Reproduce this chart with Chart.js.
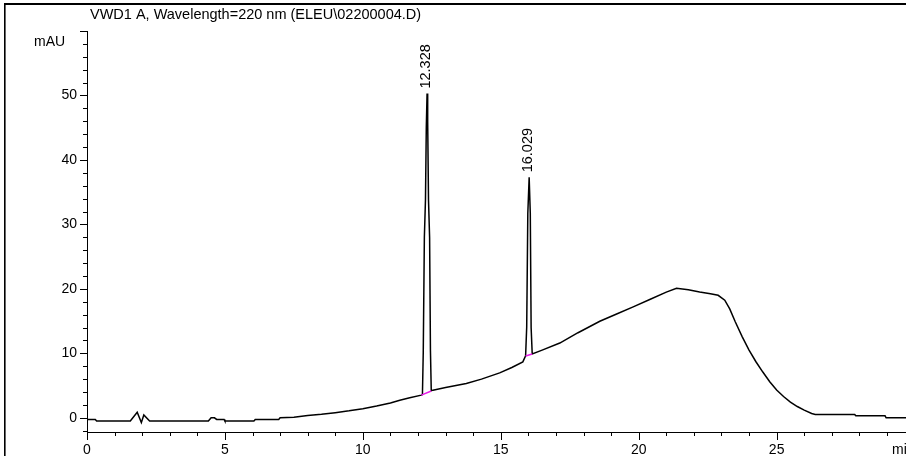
<!DOCTYPE html>
<html>
<head>
<meta charset="utf-8">
<title>VWD1 A, Wavelength=220 nm</title>
<script src="https://cdn.jsdelivr.net/npm/chart.js@4.4.1/dist/chart.umd.min.js"></script>
<style>
    html, body { margin: 0; padding: 0; background: #fff; overflow: hidden; }
    #wrap { width: 906px; height: 456px; }
</style>
</head>
<body>
<div id="wrap"><canvas id="chromatogram" width="906" height="456"></canvas></div>
<script>
// --- DADOS ---
const signalTitle = 'VWD1 A, Wavelength=220 nm (ELEU\\02200004.D)';
const yUnit = 'mAU';
const xUnit = 'min';

// tempo de retenção (min) e sinal (mAU)
const retentionTime = [
    0.00, 0.30, 0.35, 1.57, 1.82, 1.97, 2.06, 2.27, 4.40, 4.50, 4.62, 4.70, 4.97, 5.00,
    6.05, 6.10, 6.95, 7.00, 7.50, 8.00, 8.50, 9.00, 9.50, 10.00, 10.50, 11.00, 11.34, 11.70,
    12.12, 12.16, 12.19, 12.23, 12.27, 12.30, 12.328, 12.35, 12.38, 12.42, 12.45, 12.48,
    12.54, 13.00, 13.75, 14.30, 14.96, 15.40, 15.80,
    15.90, 15.94, 15.98, 16.029, 16.07, 16.10, 16.14,
    16.50, 17.14, 17.80, 18.59, 19.20, 19.80, 20.40, 21.00, 21.37, 21.80, 22.21, 22.60, 22.88,
    23.12, 23.30, 23.50, 23.75, 24.00, 24.25, 24.50, 24.75, 25.00, 25.25, 25.50, 25.75, 26.00,
    26.27, 26.40, 27.83, 27.87, 28.93, 28.97, 29.69
];
const absorbance = [
    -0.25, -0.25, -0.5, -0.5, 0.85, -0.75, 0.45, -0.5, -0.5, 0.0, 0.0, -0.25, -0.25, -0.5,
    -0.5, -0.25, -0.25, 0.0, 0.1, 0.35, 0.55, 0.8, 1.08, 1.42, 1.82, 2.3, 2.72, 3.1,
    3.52, 3.6, 10.2, 28.0, 33.8, 45.0, 50.3, 46.0, 33.8, 28.0, 10.5, 4.2,
    4.29, 4.7, 5.33, 6.0, 6.97, 7.8, 8.68,
    9.6, 14.1, 31.7, 37.3, 31.7, 14.0, 9.9,
    10.5, 11.6, 13.2, 14.98, 16.1, 17.2, 18.35, 19.5, 20.1, 19.85, 19.52, 19.25, 19.0,
    18.24, 16.9, 14.9, 12.6, 10.5, 8.7, 7.1, 5.6, 4.3, 3.3, 2.45, 1.75, 1.2,
    0.68, 0.52, 0.52, 0.31, 0.31, 0.0, 0.0
];

// picos integrados: tempo de retenção e linha de base (início / fim)
const peakTimes = [12.328, 16.029];
const baselineStartTime = [12.12, 15.90];
const baselineStartValue = [3.52, 9.6];
const baselineEndTime = [12.48, 16.14];
const baselineEndValue = [4.15, 9.9];

// rótulos dos eixos
const xTickLabels = [0, 5, 10, 15, 20, 25];
const yTickLabels = [0, 10, 20, 30, 40, 50];

const FONT = '"Liberation Sans", Arial, sans-serif';

// --- PLUGINS ---
const fundoBranco = {
    id: 'fundoBranco',
    beforeDraw(chart) {
        const ctx = chart.ctx;
        ctx.save();
        ctx.fillStyle = '#fff';
        ctx.fillRect(0, 0, chart.width, chart.height);
        ctx.restore();
    }
};

const moldura = {
    id: 'moldura',
    afterDraw(chart) {
        const { ctx, chartArea, scales } = chart;
        const x = scales.x, y = scales.y;
        ctx.save();
        ctx.fillStyle = '#000';
        // moldura externa (esquerda e topo)
        ctx.fillRect(4, 3, 1.6, chart.height - 3);
        ctx.fillRect(4, 3, chart.width - 4, 2);

        // marcas do eixo x: maiores a cada 5 min, menores a cada 1 min
        ctx.strokeStyle = '#000';
        ctx.lineWidth = 1;
        for (let t = 0; t <= x.max; t += 1) {
            const px = Math.round(x.getPixelForValue(t)) + 0.5;
            const len = t % 5 === 0 ? 8 : 4;
            ctx.beginPath();
            ctx.moveTo(px, chartArea.bottom);
            ctx.lineTo(px, chartArea.bottom + len);
            ctx.stroke();
        }
        // marcas do eixo y: maiores a cada 10, menores a cada 2
        for (let v = -2; v <= y.max; v += 2) {
            const py = Math.round(y.getPixelForValue(v)) + 0.5;
            const len = v % 10 === 0 ? 7 : 4;
            ctx.beginPath();
            ctx.moveTo(chartArea.left, py);
            ctx.lineTo(chartArea.left - len, py);
            ctx.stroke();
        }

        // títulos
        ctx.fillStyle = '#000';
        ctx.font = '14.5px ' + FONT;
        ctx.textBaseline = 'alphabetic';
        ctx.textAlign = 'left';
        ctx.fillText(signalTitle, 90, 19);
        ctx.font = '14px ' + FONT;
        ctx.fillText(yUnit, 34, 46);
        ctx.fillText(xUnit, chartArea.right - 14, 454);

        // rótulos dos picos, na vertical
        peakTimes.forEach(t => {
            const idx = retentionTime.indexOf(t);
            const topo = absorbance[idx];
            const px = x.getPixelForValue(t);
            const py = y.getPixelForValue(topo);
            ctx.save();
            ctx.translate(px - 1, py - 5);
            ctx.rotate(-Math.PI / 2);
            ctx.textAlign = 'left';
            ctx.textBaseline = 'middle';
            ctx.font = '14.5px ' + FONT;
            ctx.fillText(t.toFixed(3), 0, 0);
            ctx.restore();
        });
        ctx.restore();
    }
};

// --- GRÁFICO ---
function init() {
    const canvas = document.getElementById('chromatogram');
    const pontos = retentionTime.map((t, i) => ({ x: t, y: absorbance[i] }));
    const linhasBase = peakTimes.map((_, i) => ({
        label: 'baseline ' + peakTimes[i],
        data: [
            { x: baselineStartTime[i], y: baselineStartValue[i] },
            { x: baselineEndTime[i], y: baselineEndValue[i] }
        ],
        borderColor: '#e818e8',
        borderWidth: 1.5,
        pointRadius: 0,
        tension: 0
    }));

    new Chart(canvas.getContext('2d'), {
        type: 'line',
        data: {
            datasets: [
                ...linhasBase,
                {
                    label: 'VWD1 A',
                    data: pontos,
                    borderColor: '#000',
                    borderWidth: 1.5,
                    pointRadius: 0,
                    tension: 0,
                    order: 1
                }
            ]
        },
        options: {
            responsive: false,
            animation: false,
            devicePixelRatio: 1,
            layout: { padding: { top: 31, right: 0, bottom: 0, left: 0 } },
            plugins: { legend: { display: false }, tooltip: { enabled: false } },
            scales: {
                x: {
                    type: 'linear',
                    min: 0,
                    max: 29.69,
                    grid: { display: false, drawTicks: false },
                    border: { color: '#000', width: 1 },
                    ticks: {
                        autoSkip: false,
                        maxRotation: 0,
                        padding: 10,
                        color: '#000',
                        font: { family: FONT, size: 14 }
                    },
                    afterBuildTicks: s => { s.ticks = xTickLabels.map(v => ({ value: v })); },
                    afterFit: s => { s.height = 24; s.paddingLeft = 0; s.paddingRight = 0; }
                },
                y: {
                    min: -2.2,
                    max: 60,
                    grid: { display: false, drawTicks: false },
                    border: { color: '#000', width: 1 },
                    ticks: {
                        autoSkip: false,
                        padding: 10,
                        color: '#000',
                        font: { family: FONT, size: 14 }
                    },
                    afterBuildTicks: s => { s.ticks = yTickLabels.map(v => ({ value: v })); },
                    afterFit: s => { s.width = 87; s.paddingTop = 0; s.paddingBottom = 0; }
                }
            }
        },
        plugins: [fundoBranco, moldura]
    });
}

init();
</script>
</body>
</html>
